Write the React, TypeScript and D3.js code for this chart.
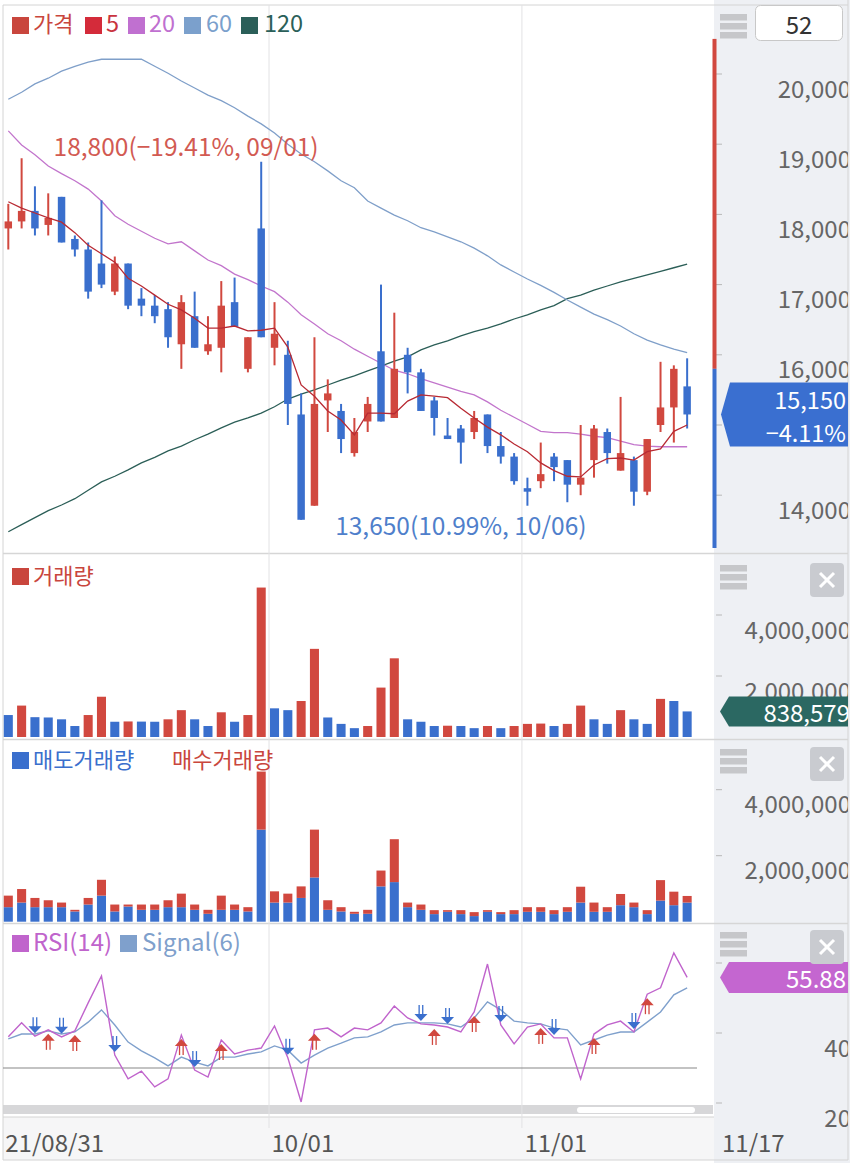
import React from "react";
import * as d3 from "d3";

// ---------- DATA ----------
const dates = [
  "08/31","09/01","09/02","09/03","09/06","09/07","09/08","09/09","09/10","09/13",
  "09/14","09/15","09/16","09/17","09/23","09/24","09/27","09/28","09/29","09/30",
  "10/01","10/05","10/06","10/07","10/08","10/12","10/13","10/14","10/15","10/18",
  "10/19","10/20","10/21","10/22","10/25","10/26","10/27","10/28","10/29","11/01",
  "11/02","11/03","11/04","11/05","11/08","11/09","11/10","11/11","11/12","11/15",
  "11/16","11/17",
];
const open = [
  17800,17900,18050,17850,18250,17650,17500,17300,16900,17300,
  16800,16700,16650,16150,16550,16050,16100,16750,15800,17800,
  16100,16000,15150,13850,15350,15200,14600,15050,16050,15100,
  16000,15750,15350,14850,14950,14900,15150,14700,14550,14100,
  14200,14550,14500,14150,14500,14900,14350,14500,14050,15000,
  15250,15550,
];
const high = [
  18150,18800,18400,18300,18250,17700,17600,18200,17400,17300,
  16950,16850,16750,16850,16900,16550,17050,17100,16250,18750,
  16750,16200,15450,16250,15650,15300,15100,15400,17000,16600,
  16100,15800,15400,15100,15000,15200,15150,14900,14600,14250,
  14750,14600,14500,15000,15000,14950,15400,14550,14800,15900,
  15850,15950,
];
const low = [
  17500,17800,17700,17700,17600,17400,16800,16950,16850,16650,
  16550,16450,16100,15800,16100,16000,15750,16400,15750,16250,
  15850,15000,13650,13850,14900,14600,14550,14900,15050,15100,
  15450,15200,14850,14800,14450,14800,14600,14450,14150,13850,
  14100,14200,13900,14000,14250,14450,14350,13850,14000,14900,
  14750,14950,
];
const close = [
  17900,18050,17800,17950,17600,17500,16900,17000,17300,16700,
  16700,16550,16250,16750,16100,16150,16700,16400,16250,16250,
  16300,15300,13650,15300,15450,14800,14900,15300,15050,15800,
  15750,15200,15100,14800,14750,15100,14700,14550,14200,14050,
  14300,14400,14150,14250,14950,14600,14600,14050,14800,15250,
  15800,15150,
];
const ma5 = [
  18180,18090,18020,17950,17890,17740,17560,17440,17320,17090,
  16980,16850,16720,16640,16520,16380,16380,16410,16340,16350,
  16380,16110,15570,15410,15200,15070,14860,15170,15170,15160,
  15340,15430,15410,15390,15240,15100,14970,14860,14730,14620,
  14460,14350,14270,14260,14430,14520,14530,14500,14620,14660,
  14910,15000,
];
const ma20 = [
  19190,18990,18850,18690,18580,18480,18360,18190,17980,17860,
  17760,17660,17580,17610,17480,17350,17270,17150,17070,16980,
  16900,16750,16570,16440,16300,16200,16080,15980,15880,15780,
  15730,15660,15600,15540,15480,15430,15330,15210,15110,15010,
  14910,14890,14890,14870,14840,14820,14770,14720,14700,14690,
  14690,14690,
];
const ma60 = [
  19640,19740,19860,19940,20040,20110,20170,20210,20210,20210,
  20210,20110,20010,19900,19800,19700,19620,19520,19400,19290,
  19160,19000,18860,18750,18620,18480,18380,18190,18090,17990,
  17910,17810,17750,17680,17610,17520,17410,17280,17180,17080,
  16990,16890,16780,16680,16580,16500,16410,16300,16210,16140,
  16080,16030,
];
const ma120 = [
  13480,13580,13680,13780,13860,13950,14070,14190,14270,14360,
  14460,14540,14630,14700,14790,14870,14960,15040,15100,15170,
  15260,15370,15440,15500,15570,15640,15700,15770,15840,15910,
  15970,16070,16140,16200,16270,16330,16380,16440,16510,16570,
  16640,16700,16800,16850,16920,16980,17040,17090,17140,17190,
  17240,17290,
];
const volume = [
  720000,1030000,650000,640000,580000,360000,720000,1320000,500000,510000,
  505000,500000,580000,880000,580000,360000,810000,500000,720000,4900000,
  940000,880000,1180000,2890000,640000,430000,290000,360000,1620000,2580000,
  580000,500000,360000,370000,360000,290000,360000,290000,360000,430000,
  440000,360000,430000,1030000,580000,430000,880000,580000,430000,1250000,
  1180000,838579,
];
const sellVolume = [
  440000,580000,440000,440000,440000,310000,520000,790000,310000,460000,
  360000,360000,440000,440000,360000,240000,360000,360000,310000,2790000,
  580000,580000,720000,1340000,360000,310000,240000,240000,1070000,1200000,
  440000,360000,230000,300000,230000,170000,300000,230000,230000,300000,
  300000,230000,300000,580000,300000,300000,500000,440000,230000,640000,
  500000,580000,
];
const buyVolume = [
  350000,410000,280000,210000,140000,50000,200000,480000,210000,60000,
  160000,160000,210000,410000,160000,120000,430000,160000,130000,1760000,
  340000,270000,350000,1450000,290000,130000,60000,120000,480000,1300000,
  140000,160000,120000,50000,120000,120000,50000,60000,120000,140000,
  140000,120000,140000,480000,280000,140000,340000,140000,120000,620000,
  410000,200000,
];
const rsi = [
  38.9,42.9,39.1,40.9,38.9,40.6,48.6,56.3,33.7,26.9,
  29.1,24.6,26.9,39.4,29.4,27.4,38.0,34.0,35.1,35.7,
  42.0,32.9,20.3,40.9,41.4,38.9,41.4,40.9,42.9,47.7,
  44.3,42.6,42.3,41.7,40.3,46.0,59.7,42.3,36.9,41.7,
  42.6,38.6,38.6,26.9,39.7,42.3,43.4,40.3,51.1,52.9,
  62.9,55.88,
];
const signal = [
  38.3,39.7,39.7,40.6,39.7,40.3,43.1,46.6,42.3,37.4,
  34.9,32.9,30.6,33.1,31.7,30.6,33.1,33.1,34.0,34.6,
  36.3,35.1,31.4,33.7,35.7,37.1,38.6,38.9,40.3,42.3,
  42.9,42.9,42.9,42.6,41.7,44.3,48.9,46.6,43.4,42.9,
  42.6,41.4,40.9,36.6,38.0,39.4,40.3,40.3,43.1,46.0,
  50.9,52.9,
];
const sellSignals = [2, 4, 8, 14, 21, 31, 33, 37, 41, 47];
const buySignals = [3, 5, 13, 16, 23, 32, 35, 40, 44, 48];
const priceTicks = [14000, 15000, 16000, 17000, 18000, 19000, 20000];
const volumeTicks = [2000000, 4000000];
const rsiTicks = [20, 40, 60];
const rsiBaseLine = 30;
const prevClose = 15800;
const upperLimit = 20500;
const lowerLimit = 11100;
const dateLabels = [
  { i: 0, label: "21/08/31" },
  { i: 20, label: "10/01" },
  { i: 39, label: "11/01" },
];
const lastDateLabel = "11/17";
const monthStarts = [20, 39];
const visibleCount = "52";

// ---------- STYLE ----------
const RED = "#d1483f";
const BLUE = "#3a6fcd";
const MA5C = "#b82a33";
const MA20C = "#c275cc";
const MA60C = "#7f9fc9";
const MA120C = "#2b5e57";
const RSIC = "#c064cc";
const SIGC = "#7fa0cc";
const FONT = "'Noto Sans CJK KR', 'Noto Sans', sans-serif";
const AXIS_TXT = "#666";

export default function App() {
  const N = close.length;
  const idx = d3.range(N);
  const x = d3
    .scaleBand<number>()
    .domain(idx)
    .range([1.65, 693.8])
    .paddingInner(0.4)
    .paddingOuter(0.2);
  const step = x.step();
  const cx = (i: number) => (x(i) as number) + x.bandwidth() / 2;

  const yP = d3.scaleLinear().domain([14000, 20000]).range([495.2, 74]);
  const yV = d3.scaleLinear().domain([0, 4000000]).range([737, 615]);
  const yB = d3.scaleLinear().domain([0, 4000000]).range([921.7, 789.7]);
  const yR = d3.scaleLinear().domain([20, 60]).range([1103, 963]);

  const fmt = d3.format(",");
  const lineP = (arr: number[]) =>
    d3.line<number>().x((_, i) => cx(i)).y((d) => yP(d))(arr) || "";
  const lineR = (arr: number[]) =>
    d3.line<number>().x((_, i) => cx(i)).y((d) => yR(d))(arr) || "";

  const last = close[N - 1];
  const hiIdx = d3.maxIndex(high);
  const loIdx = d3.minIndex(low);
  const hiTxt = `${fmt(high[hiIdx])}(${d3.format(".2f")(((last - high[hiIdx]) / high[hiIdx]) * 100).replace("-", "−")}%, ${dates[hiIdx]})`;
  const loTxt = `${fmt(low[loIdx])}(${d3.format(".2f")(((last - low[loIdx]) / low[loIdx]) * 100)}%, ${dates[loIdx]})`;
  const chg = d3.format(".2f")(((last - prevClose) / prevClose) * 100);

  const bodyW = step * 0.56;
  const volW = step * 0.68;

  const priceTagH = 64;
  const rsiTagH = 31;
  const volTagH = 30;

  const tagPath = (tipX: number, boxL: number, boxR: number, yc: number, h: number) =>
    `M${tipX},${yc} L${boxL},${yc - h / 2} L${boxR},${yc - h / 2} L${boxR},${yc + h / 2} L${boxL},${yc + h / 2} Z`;

  const hamburger = (y0: number) => (
    <g>
      {[0, 9, 18].map((d) => (
        <rect key={d} x={720} y={y0 + d} width={27} height={6.5} fill="#c6c7ca" />
      ))}
    </g>
  );
  const closeBtn = (y0: number) => (
    <g>
      <rect x={810} y={y0} width={34} height={34} rx={4} fill="#c9cbd0" />
      <line x1={820} y1={y0 + 10} x2={834} y2={y0 + 24} stroke="#fff" strokeWidth={3} />
      <line x1={834} y1={y0 + 10} x2={820} y2={y0 + 24} stroke="#fff" strokeWidth={3} />
    </g>
  );

  // tick mark always; text only if not hidden behind the current-value tag
  const axisLabel = (y: number, t: string, key: string | number, tagY?: number, tagH?: number) => {
    const c = y + 13;
    const hidden = tagY !== undefined && tagH !== undefined && c > tagY - tagH / 2 && c < tagY + tagH / 2;
    return (
      <g key={key}>
        <line x1={716} x2={722} y1={y} y2={y} stroke="#b8b8b8" strokeWidth={1} />
        {!hidden && (
          <text x={851} y={c} textAnchor="end" dominantBaseline="central" fontSize={24} fill={AXIS_TXT}>
            {t}
          </text>
        )}
      </g>
    );
  };

  return (
    <svg
      width={850}
      height={1163}
      style={{ position: "absolute", left: 0, top: 0, background: "#fff" }}
      fontFamily={FONT}
    >
      <defs>
        <clipPath id="pricePlot">
          <rect x={3} y={5} width={710} height={548} />
        </clipPath>
        <clipPath id="rightCol">
          <rect x={0} y={0} width={848} height={1163} />
        </clipPath>
      </defs>

      {/* backgrounds */}
      <rect x={0} y={0} width={850} height={1163} fill="#fff" />
      <rect x={714} y={0} width={136} height={1163} fill="#eef0f4" />
      <rect x={3} y={1117} width={711} height={43} fill="#f6f6f7" />
      <rect x={3} y={1105} width={710} height={9} fill="#d7d7d9" />
      <rect x={577} y={1107} width={118} height={6} rx={3} fill="#fff" />

      {/* frame & separators */}
      <line x1={3} x2={848} y1={5} y2={5} stroke="#d4d4d4" />
      <line x1={3} x2={3} y1={5} y2={1160} stroke="#d4d4d4" />
      <line x1={848} x2={848} y1={0} y2={1160} stroke="#d4d4d4" />
      <line x1={3} x2={848} y1={1160} y2={1160} stroke="#d4d4d4" />
      {[553.5, 739.5, 923.5].map((y) => (
        <line key={y} x1={3} x2={848} y1={y} y2={y} stroke="#d6d6d6" strokeWidth={1.5} />
      ))}
      <line x1={3} x2={714} y1={1117} y2={1117} stroke="#d4d4d4" />

      {/* month gridlines */}
      {monthStarts.map((i) => (
        <line key={i} x1={cx(i) - 5.5} x2={cx(i) - 5.5} y1={5} y2={1128} stroke="#e2e2e4" strokeWidth={1} />
      ))}

      {/* ---------- PRICE PANEL ---------- */}
      <g clipPath="url(#pricePlot)">
        <path d={lineP(ma120)} fill="none" stroke={MA120C} strokeWidth={1.3} />
        <path d={lineP(ma60)} fill="none" stroke={MA60C} strokeWidth={1.3} />
        <path d={lineP(ma20)} fill="none" stroke={MA20C} strokeWidth={1.3} />
        {idx.map((i) => {
          const up = close[i] >= open[i];
          const col = up ? RED : BLUE;
          const top = yP(Math.max(open[i], close[i]));
          const bot = yP(Math.min(open[i], close[i]));
          return (
            <g key={i}>
              <line x1={cx(i)} x2={cx(i)} y1={yP(high[i])} y2={yP(low[i])} stroke={col} strokeWidth={2} />
              <rect x={cx(i) - bodyW / 2} y={top} width={bodyW} height={Math.max(1.8, bot - top)} fill={col} />
            </g>
          );
        })}
        <path d={lineP(ma5)} fill="none" stroke={MA5C} strokeWidth={1.3} />
      </g>

      {/* annotations */}
      <text x={cx(hiIdx) + 32} y={yP(high[hiIdx]) - 2} fontSize={24.5} fill="#d25a52">
        {hiTxt}
      </text>
      <text x={cx(loIdx) + 34} y={yP(low[loIdx]) + 15} fontSize={24.5} fill="#4f7fcb">
        {loTxt}
      </text>

      {/* price legend */}
      <g fontSize={22}>
        <rect x={12} y={17} width={17} height={17} fill="#c9463d" />
        <text x={33} y={32} fill="#c9463d">가격</text>
        <rect x={85} y={17} width={17} height={17} fill="#d42b3a" />
        <text x={106} y={32} fontSize={23.5} fill="#c9343f">5</text>
        <rect x={128} y={17} width={17} height={17} fill="#c070d0" />
        <text x={149} y={32} fontSize={23.5} fill="#c070d0">20</text>
        <rect x={184} y={17} width={17} height={17} fill="#7ba0cc" />
        <text x={206} y={32} fontSize={23.5} fill="#7ba0cc">60</text>
        <rect x={241} y={17} width={17} height={17} fill="#2b5f59" />
        <text x={264} y={32} fontSize={23.5} fill="#2b5f59">120</text>
      </g>

      {/* price axis */}
      <g clipPath="url(#rightCol)">
        {priceTicks.map((t) => axisLabel(yP(t), fmt(t), t, yP(last), priceTagH))}
      </g>
      {/* limit bar */}
      <rect x={712.5} y={yP(upperLimit)} width={4} height={yP(prevClose) - yP(upperLimit)} fill={RED} />
      <rect x={712.5} y={yP(prevClose)} width={4} height={Math.min(548, yP(lowerLimit)) - yP(prevClose)} fill={BLUE} />
      {/* current price tag */}
      <path d={tagPath(721, 730, 848, yP(last), priceTagH)} fill="#3a6fd0" />
      <text x={846} y={399} textAnchor="end" dominantBaseline="central" fontSize={23.5} fill="#fff">
        {fmt(last)}
      </text>
      <text x={846} y={432} textAnchor="end" dominantBaseline="central" fontSize={23.5} fill="#fff">
        {chg}%
      </text>
      {hamburger(14)}
      <rect x={755.5} y={5.5} width={87} height={35} rx={5} fill="#fff" stroke="#c8c8c8" />
      <text x={799} y={23} textAnchor="middle" dominantBaseline="central" fontSize={24} fill="#333">
        {visibleCount}
      </text>

      {/* ---------- VOLUME PANEL ---------- */}
      {idx.map((i) => {
        const up = i > 0 && volume[i] > volume[i - 1];
        return (
          <rect
            key={i}
            x={cx(i) - volW / 2}
            y={yV(volume[i])}
            width={volW}
            height={yV(0) - yV(volume[i])}
            fill={up ? RED : BLUE}
          />
        );
      })}
      <rect x={12} y={568} width={17} height={17} fill="#c9463d" />
      <text x={33} y={584} fontSize={22} fill="#c9463d">거래량</text>
      <g clipPath="url(#rightCol)">
        {volumeTicks.map((t) => axisLabel(yV(t), fmt(t), "v" + t))}
      </g>
      <path d={tagPath(720, 729, 848, yV(volume[N - 1]), volTagH)} fill="#2b6862" />
      <g clipPath="url(#rightCol)">
        <text x={850} y={yV(volume[N - 1])} textAnchor="end" dominantBaseline="central" fontSize={24} fill="#fff">
          {fmt(volume[N - 1])}
        </text>
      </g>
      {hamburger(565)}
      {closeBtn(563)}

      {/* ---------- SELL / BUY PANEL ---------- */}
      {idx.map((i) => (
        <g key={i}>
          <rect
            x={cx(i) - volW / 2}
            y={yB(sellVolume[i])}
            width={volW}
            height={yB(0) - yB(sellVolume[i])}
            fill={BLUE}
          />
          <rect
            x={cx(i) - volW / 2}
            y={yB(sellVolume[i] + buyVolume[i])}
            width={volW}
            height={yB(sellVolume[i]) - yB(sellVolume[i] + buyVolume[i])}
            fill={RED}
          />
        </g>
      ))}
      <rect x={12} y={752} width={17} height={17} fill="#3a6fcd" />
      <text x={33} y={768} fontSize={22} fill="#3a6fcd">매도거래량</text>
      <text x={172} y={768} fontSize={22} fill="#c9463d">매수거래량</text>
      <g clipPath="url(#rightCol)">
        {volumeTicks.map((t) => axisLabel(yB(t), fmt(t), "b" + t))}
      </g>
      {hamburger(749)}
      {closeBtn(747)}

      {/* ---------- RSI PANEL ---------- */}
      <line x1={3} x2={697} y1={yR(rsiBaseLine)} y2={yR(rsiBaseLine)} stroke="#888" strokeWidth={1.2} />
      <path d={lineR(signal)} fill="none" stroke={SIGC} strokeWidth={1.4} />
      <path d={lineR(rsi)} fill="none" stroke={RSIC} strokeWidth={1.4} />
      {sellSignals.map((i) => {
        const tx = cx(i);
        const ty = yR(rsi[i]) - 3;
        return (
          <g key={"s" + i}>
            <line x1={tx - 1.8} x2={tx - 1.8} y1={ty - 16} y2={ty - 6} stroke={BLUE} strokeWidth={1.3} />
            <line x1={tx + 1.8} x2={tx + 1.8} y1={ty - 16} y2={ty - 6} stroke={BLUE} strokeWidth={1.3} />
            <path d={`M${tx - 6.5},${ty - 7} L${tx + 6.5},${ty - 7} L${tx},${ty} Z`} fill={BLUE} />
          </g>
        );
      })}
      {buySignals.map((i) => {
        const tx = cx(i);
        const ty = yR(rsi[i]) + 4;
        return (
          <g key={"b" + i}>
            <line x1={tx - 1.8} x2={tx - 1.8} y1={ty + 6} y2={ty + 16} stroke={RED} strokeWidth={1.3} />
            <line x1={tx + 1.8} x2={tx + 1.8} y1={ty + 6} y2={ty + 16} stroke={RED} strokeWidth={1.3} />
            <path d={`M${tx - 6.5},${ty + 7} L${tx + 6.5},${ty + 7} L${tx},${ty} Z`} fill={RED} />
          </g>
        );
      })}
      <rect x={12} y={935} width={17} height={17} fill="#c064cc" />
      <text x={33} y={951} fontSize={24} fill="#c064cc">RSI(14)</text>
      <rect x={120} y={935} width={17} height={17} fill="#7fa0cc" />
      <text x={142} y={951} fontSize={24} fill="#7fa0cc">Signal(6)</text>
      <g clipPath="url(#rightCol)">
        {rsiTicks.map((t) => axisLabel(yR(t), String(t), "r" + t, yR(rsi[N - 1]), rsiTagH))}
      </g>
      <path d={tagPath(720, 729, 848, yR(rsi[N - 1]), rsiTagH)} fill="#c466d0" />
      <text x={846} y={yR(rsi[N - 1])} textAnchor="end" dominantBaseline="central" fontSize={24} fill="#fff">
        {d3.format(".2f")(rsi[N - 1])}
      </text>
      {hamburger(932)}
      {closeBtn(930)}

      {/* ---------- DATE AXIS ---------- */}
      {dateLabels.map((d) => (
        <text key={d.i} x={cx(d.i) - 3} y={1141} dominantBaseline="central" fontSize={24} fill="#555">
          {d.label}
        </text>
      ))}
      <text x={722} y={1141} dominantBaseline="central" fontSize={24} fill="#555">
        {lastDateLabel}
      </text>
    </svg>
  );
}
